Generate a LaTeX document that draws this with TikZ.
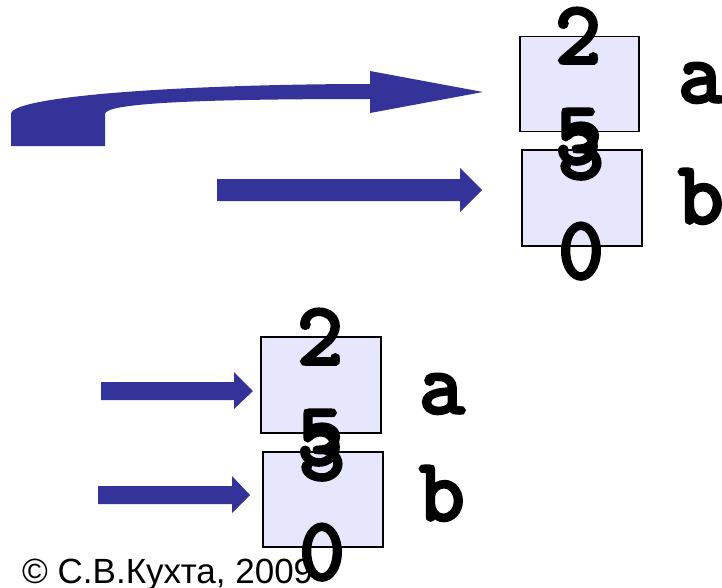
\documentclass[tikz,border=0pt]{standalone}
\usepackage{fontspec}
\setmainfont{Liberation Sans}
\newfontfamily\courfont{Latin Modern Mono}[FakeBold=4]
\definecolor{arrowblue}{RGB}{51,51,153}
\definecolor{boxfill}{RGB}{230,230,252}
\begin{document}
\begin{tikzpicture}[x=1pt,y=-1pt,
  cell/.style={draw=black,line width=1.5pt,fill=boxfill,inner sep=0pt,minimum width=120pt,minimum height=95pt},
  digit/.style={anchor=base,inner sep=0pt,font=\courfont\fontsize{88}{100}\selectfont},
  varname/.style={anchor=base west,inner sep=0pt,font=\courfont\fontsize{88}{100}\selectfont},
  arrowshape/.style={fill=arrowblue,draw=none}]
\useasboundingbox (0,0) rectangle (722,587);
% copyright
\node[anchor=base west,inner sep=0pt,font=\fontsize{35}{38}\selectfont] (copy) at (22,583) {© С.В.Кухта, 2009};
% curved arrow
\fill[arrowshape] (11,146) -- (11,114) .. controls (11,95) and (200,84) .. (370,84) -- (370,71) -- (483,92) -- (370,113) -- (370,99) .. controls (200,99) and (105,103) .. (105,114) -- (105,146) -- cycle;
% straight arrow top
\fill[arrowshape] (217,179) -- (460,179) -- (460,168) -- (482,190) -- (460,212) -- (460,201) -- (217,201) -- cycle;
% bottom arrows
\fill[arrowshape] (101,382) -- (234,382) -- (234,372) -- (253,391) -- (234,409) -- (234,400) -- (101,400) -- cycle;
\fill[arrowshape] (98,486) -- (232,486) -- (232,476) -- (250,495) -- (232,513) -- (232,504) -- (98,504) -- cycle;
% boxes
\node[cell,minimum width=119pt] (ta) at (579.5,84) {};
\node[cell,minimum height=96pt] (tb) at (582,198) {};
\node[cell,minimum height=96pt] (ba) at (321,385) {};
\node[cell] (bb) at (323,499.5) {};
% digits
\node[digit] (ta1) at (578,63) {2};
\node[digit] (ta2) at (578,163) {5};
\node[digit] (tb1) at (581,178) {3};
\node[digit] (tb2) at (581,278) {0};
\node[digit] (ba1) at (320,364) {2};
\node[digit] (ba2) at (320,464) {5};
\node[digit] (bb1) at (322,479) {3};
\node[digit] (bb2) at (322,579) {0};
% names
\node[varname] (la) at (678,102) {a};
\node[varname] (lb) at (678,223) {b};
\node[varname] (lba) at (419,413) {a};
\node[varname] (lbb) at (419,520) {b};
\end{tikzpicture}
\end{document}
